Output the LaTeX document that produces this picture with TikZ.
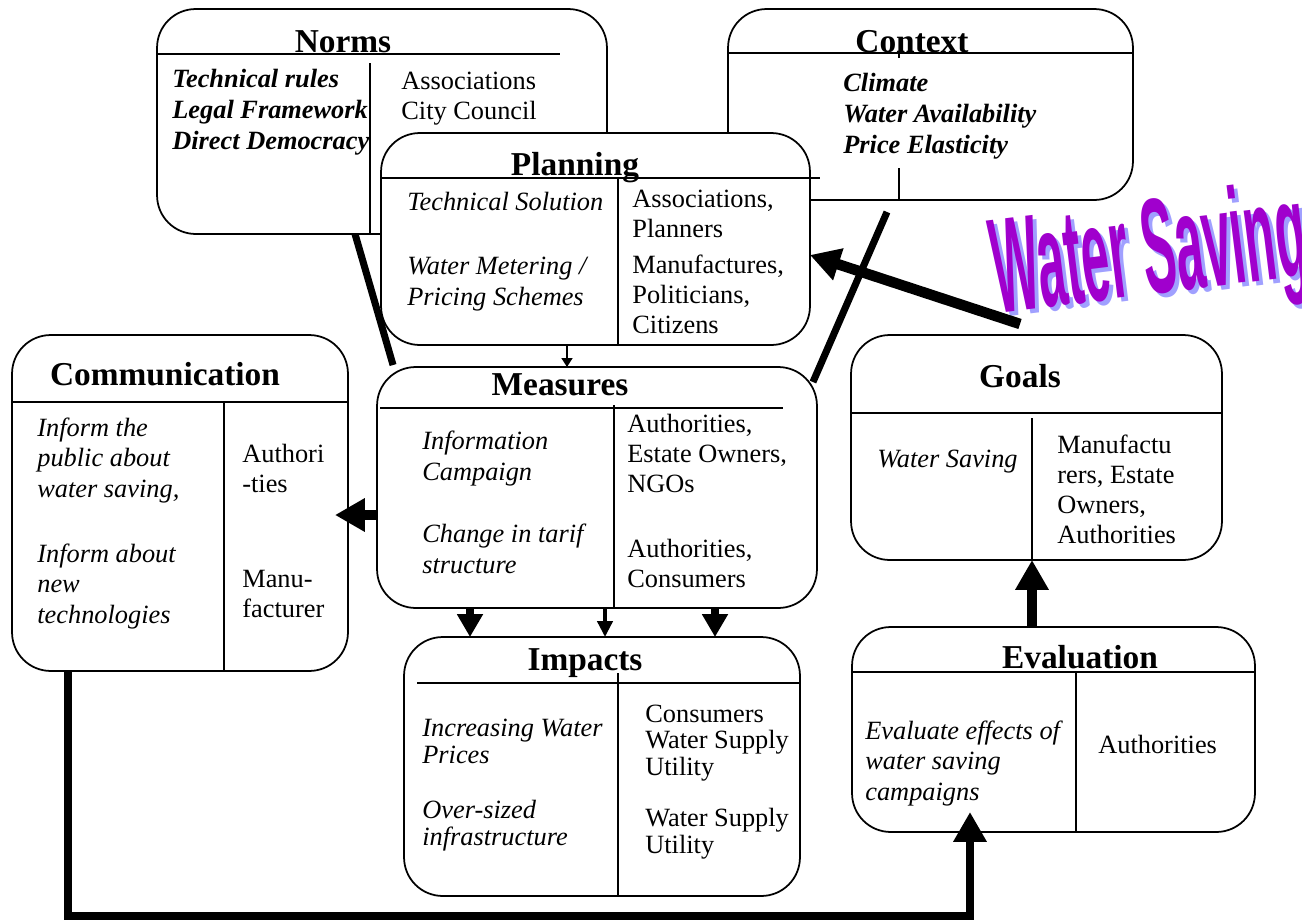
\documentclass[tikz,border=0pt]{standalone}
\usepackage{fontspec}
\setmainfont{Liberation Serif}
\newfontfamily\wordartfont{Liberation Sans}
\usetikzlibrary{calc, positioning}
\usetikzlibrary{arrows.meta}

\definecolor{wsviolet}{RGB}{160,0,205}
\definecolor{wsshade}{RGB}{160,160,255}

\tikzset{
  panel/.style={draw, line width=1pt, rounded corners=22pt, fill=white, inner sep=0pt, outer sep=0pt},
  title/.style={font=\bfseries\fontsize{19}{21}\selectfont, anchor=base, inner sep=0pt},
  topic/.style={font=\itshape\fontsize{15}{17.2}\selectfont, align=left, anchor=base west, inner sep=0pt},
  factor/.style={font=\bfseries\itshape\fontsize{15}{17.6}\selectfont, align=left, anchor=base west, inner sep=0pt},
  actor/.style={font=\fontsize{15}{17}\selectfont, align=left, anchor=base west, inner sep=0pt},
  tight/.style={font=\fontsize{15}{15}\selectfont},
  tightit/.style={font=\itshape\fontsize{15}{15}\selectfont},
  sepline/.style={line width=1pt},
  fatline/.style={line width=4pt},
  bigarrow/.style={line width=6pt, -{Triangle[length=17pt,width=18pt]}},
  midarrow/.style={line width=5pt, -{Triangle[length=13pt,width=14pt]}},
  smallarrow/.style={line width=2.2pt, -{Triangle[length=9pt,width=8.5pt]}},
  thinarrow/.style={line width=1.2pt, -{Triangle[length=5pt,width=6pt]}},
  wordart/.style={font=\wordartfont\bfseries\fontsize{77}{77}\selectfont, anchor=base, rotate=7, xscale=0.37, inner sep=0pt}
}

\begin{document}
\begin{tikzpicture}[x=0.02cm, y=-0.02cm]
\useasboundingbox (0,0) rectangle (1302,923);

\node[panel, minimum width=9cm, minimum height=4.5cm] (norms) at (382,121.5) {};
\draw[sepline] (157,54) -- (560,54);
\draw[sepline] (370,63) -- (norms.south -| 370,0);
\node[title] (normsttl) at (343,52) {Norms};
\node[factor] (normsrules) at (172,149) {Technical rules\\Legal Framework\\Direct Democracy};
\node[actor] (normswho) at (401,119) {Associations\\City Council};

\node[panel, minimum width=8.1cm, minimum height=3.82cm] (context) at (930.5,104.5) {};
\draw[sepline] (context.west |- 0,53) -- (context.east |- 0,53);
\draw[sepline] (899,53) -- (899,58);
\draw[sepline] (899,168) -- (context.south -| 899,0);
\node[title] (contextttl) at (912,52) {Context};
\node[factor] (contextfacts) at (843,153) {Climate\\Water Availability\\Price Elasticity};

\node[panel, minimum width=8.58cm, minimum height=4.24cm] (planning) at (595.5,239) {};
\draw[sepline] (planning.west |- 0,178) -- (820,178);
\draw[sepline] (618,178) -- (planning.south -| 618,0);
\node[title] (planningttl) at (575,175) {Planning};
\node[topic] (plantech) at (407,210) {Technical Solution};
\node[topic] (planmeter) at (407,305) {Water Metering /\\Pricing Schemes};
\node[actor] (planwho1) at (632,237) {Associations,\\Planners};
\node[actor] (planwho2) at (632,333) {Manufactures,\\Politicians,\\Citizens};

\node[panel, minimum width=8.8cm, minimum height=4.82cm] (measures) at (597,487.5) {};
\draw[sepline] (380,408) -- (783,408);
\draw[sepline] (614,405) -- (measures.south -| 614,0);
\node[title] (measuresttl) at (560,395) {Measures};
\node[topic] (measinfo) at (422,480) {Information\\Campaign};
\node[topic] (meastarif) at (422,573) {Change in tarif\\structure};
\node[actor] (measwho1) at (627,492) {Authorities,\\Estate Owners,\\NGOs};
\node[actor] (measwho2) at (627,587) {Authorities,\\Consumers};

\node[panel, minimum width=6.72cm, minimum height=6.72cm] (comm) at (180,503) {};
\draw[sepline] (comm.west |- 0,402) -- (comm.east |- 0,402);
\draw[sepline] (224,402) -- (comm.south -| 224,0);
\node[title] (commttl) at (165,385) {Communication};
\node[topic] (comminfo1) at (37,497) {Inform the\\public about\\water saving,};
\node[topic] (comminfo2) at (37,623) {Inform about\\new\\technologies};
\node[actor] (commwho1) at (242,492) {Authori\\-ties};
\node[actor] (commwho2) at (242,617) {Manu-\\facturer};

\node[panel, minimum width=7.42cm, minimum height=4.5cm] (goals) at (1036.5,447.5) {};
\draw[sepline] (goals.west |- 0,413) -- (goals.east |- 0,413);
\draw[sepline] (1032,418) -- (goals.south -| 1032,0);
\node[title] (goalsttl) at (1020,387) {Goals};
\node[topic] (goalsaim) at (877,467) {Water Saving};
\node[actor] (goalswho) at (1057,543) {Manufactu\\rers, Estate\\Owners,\\Authorities};

\node[panel, minimum width=7.92cm, minimum height=5.18cm] (impacts) at (602,766.5) {};
\draw[sepline] (417,683) -- (impacts.east |- 0,683);
\draw[sepline] (618,673) -- (impacts.south -| 618,0);
\node[title] (impactsttl) at (585,670) {Impacts};
\node[topic, tightit] (impprice) at (422,763) {Increasing Water\\Prices};
\node[topic, tightit] (impinfra) at (422,845) {Over-sized\\infrastructure};
\node[actor, tight] (impwho1) at (645,775) {Consumers\\Water Supply\\Utility};
\node[actor, tight] (impwho2) at (645,853) {Water Supply\\Utility};

\node[panel, minimum width=8.06cm, minimum height=4.1cm] (evaluation) at (1053.5,729.5) {};
\draw[sepline] (evaluation.west |- 0,672) -- (evaluation.east |- 0,672);
\draw[sepline] (1076,672) -- (evaluation.south -| 1076,0);
\node[title] (evaluationttl) at (1080,668) {Evaluation};
\node[topic] (evaleffects) at (865,800) {Evaluate effects of\\water saving\\campaigns};
\node[actor] (evalwho) at (1098,753) {Authorities};

\node[wordart, text=wsshade] (wsshadow) at (1158,298) {Water Saving};
\node[wordart, text=wsviolet] (ws) at (1154,294) {Water Saving};
\coordinate (wstail) at (1020,324);

\draw[fatline] (norms.south -| 355,0) -- ($(measures.north west)+(16,-2)$);
\draw[fatline] ($(context.south -| 887,0)+(0,12)$) -- ($(measures.north east)+(-4,15)$);
\draw[bigarrow] (wstail) -- (planning.east |- 0,255);
\draw[thinarrow] (planning.south -| 567,0) -- (measures.north -| 567,0);
\draw[bigarrow] (measures.west |- 0,515) -- ($(comm.east |- 0,515)+(-13,0)$);
\draw[midarrow] (measures.south -| 470,0) -- (impacts.north -| 470,0);
\draw[smallarrow] (measures.south -| 605,0) -- (impacts.north -| 605,0);
\draw[midarrow] (measures.south -| 715,0) -- (impacts.north -| 715,0);
\draw[bigarrow] (evaluation.north -| 1032,0) -- (goals.south -| 1032,0);
\draw[bigarrow, line width=5pt] (comm.south -| 68,0) -- (68,916) -| ($(evaluation.south -| 970,0)+(0,-20)$);
\end{tikzpicture}
\end{document}
